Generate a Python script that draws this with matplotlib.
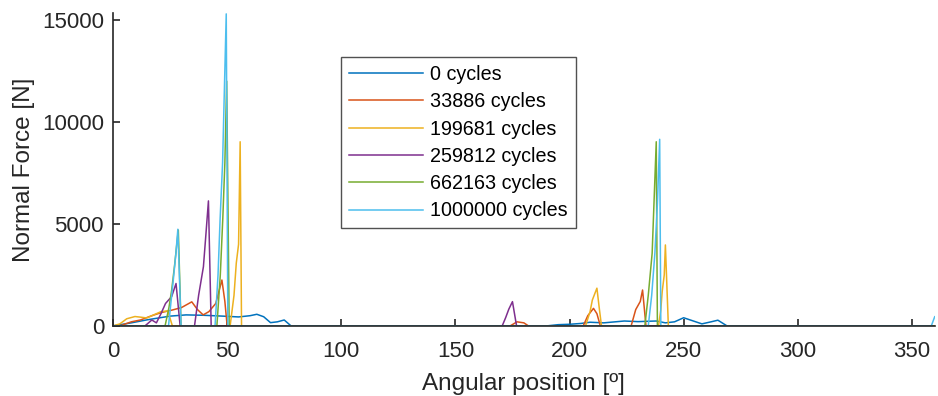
import matplotlib.pyplot as plt

plt.rcParams['font.family'] = ['Liberation Sans', 'DejaVu Sans']

labels = ["0 cycles", "33886 cycles", "199681 cycles", "259812 cycles",
          "662163 cycles", "1000000 cycles"]
colors = ["#0072BD", "#D95319", "#EDB120", "#7E2F8E", "#77AC30", "#4DBEEE"]

# 0 cycles
ang_0 = [0, 8, 15, 25, 32, 40, 48, 55, 60, 63, 66, 69, 72, 75, 78,
         190, 195, 200, 205, 209, 215, 220, 224, 230, 235, 238, 242, 246,
         250, 254, 258, 262, 265, 269, 360]
force_0 = [0, 150, 300, 480, 540, 520, 480, 440, 500, 570, 450, 160, 200, 290, 0,
           0, 60, 80, 120, 180, 150, 200, 240, 210, 230, 240, 150, 200,
           400, 250, 100, 200, 280, 0, 0]

# 33886 cycles
ang_1 = [0, 3, 8, 12, 17, 21, 26, 30, 34.5, 37, 39.5, 42, 45, 47.7, 49, 50,
         174, 177, 180, 182, 206, 208, 210.5, 212, 213.5,
         227, 229, 231, 232, 233.5, 360]
force_1 = [0, 0, 200, 290, 500, 650, 780, 900, 1180, 800, 540, 700, 1100, 2250, 1200, 0,
           0, 200, 150, 0, 0, 500, 860, 600, 0,
           0, 800, 1200, 1760, 0, 0]

# 199681 cycles
ang_2 = [0, 3, 6, 9.6, 12, 14.8, 18, 21, 24, 26,
         51.3, 53, 54, 55, 55.7, 56.3,
         207, 209, 210, 212, 213, 214,
         239, 240, 240.6, 241.5, 242, 243.3, 360]
force_2 = [0, 100, 350, 460, 430, 390, 550, 700, 735, 0,
           0, 1500, 3080, 4000, 9030, 0,
           0, 700, 1270, 1850, 900, 0,
           0, 800, 1680, 2500, 3970, 0, 0]

# 259812 cycles
ang_3 = [0, 14, 17, 19, 21, 23, 25.7, 27.6, 29.4,
         35.7, 37.5, 39.6, 40.7, 41.8, 43,
         170.5, 172, 173.4, 175, 176.8, 360]
force_3 = [0, 0, 290, 150, 600, 1100, 1440, 2080, 0,
           0, 1500, 2900, 4500, 6130, 0,
           0, 400, 820, 1190, 0, 0]

# 662163 cycles
ang_4 = [0, 22.8, 24.5, 25.7, 27, 28.6, 29.8,
         45.5, 47, 48.1, 49, 49.8, 50.9,
         233, 234.5, 236.2, 237, 238, 238.5, 360]
force_4 = [0, 0, 900, 1760, 3000, 4700, 0,
           0, 2500, 5290, 8000, 12000, 0,
           0, 1500, 3560, 6000, 9030, 0, 0]

# 1000000 cycles
ang_5 = [0, 24.3, 26.4, 27.5, 28.4, 29.8,
         44.7, 46, 46.9, 48, 49.6, 50.3,
         234.5, 236, 237.4, 238.5, 239.5, 240, 358.5, 360]
force_5 = [0, 0, 2250, 3500, 4740, 0,
           0, 2500, 5200, 8000, 15300, 0,
           0, 1500, 3570, 6000, 9150, 0, 0, 450]

angles = [ang_0, ang_1, ang_2, ang_3, ang_4, ang_5]
forces = [force_0, force_1, force_2, force_3, force_4, force_5]

fig = plt.figure(figsize=(9.38, 3.96), dpi=100)
ax = fig.add_axes([0.1205, 0.177, 0.876, 0.790])

for a, f, c, lab in zip(angles, forces, colors, labels):
    ax.plot(a, f, color=c, lw=1.1, label=lab)

ax.set_xlim(0, 360)
ax.set_ylim(0, 15340)
ax.set_xticks(range(0, 351, 50))
ax.set_yticks([0, 5000, 10000, 15000])
ax.spines['top'].set_visible(False)
ax.spines['right'].set_visible(False)
for s in ['left', 'bottom']:
    ax.spines[s].set_color('#262626')
    ax.spines[s].set_linewidth(1.2)
ax.tick_params(direction='in', length=5, width=1.2, color='#262626',
               labelsize=16, labelcolor='#262626')
ax.tick_params(axis='x', pad=11)
ax.tick_params(axis='y', pad=6.5)
ax.set_xlabel("Angular position [º]", fontsize=17.5, color='#262626', labelpad=7.5)
ax.set_ylabel("Normal Force [N]", fontsize=17.5, color='#262626', labelpad=5)

leg = ax.legend(loc='upper left', bbox_to_anchor=(0.277, 0.859), fontsize=14.2,
                frameon=True, fancybox=False, edgecolor='#262626',
                borderaxespad=0, handlelength=3.8, handletextpad=0.35,
                labelspacing=0.42, borderpad=0.4)
leg.get_frame().set_linewidth(1.0)

fig.savefig("out.png", dpi=100)
